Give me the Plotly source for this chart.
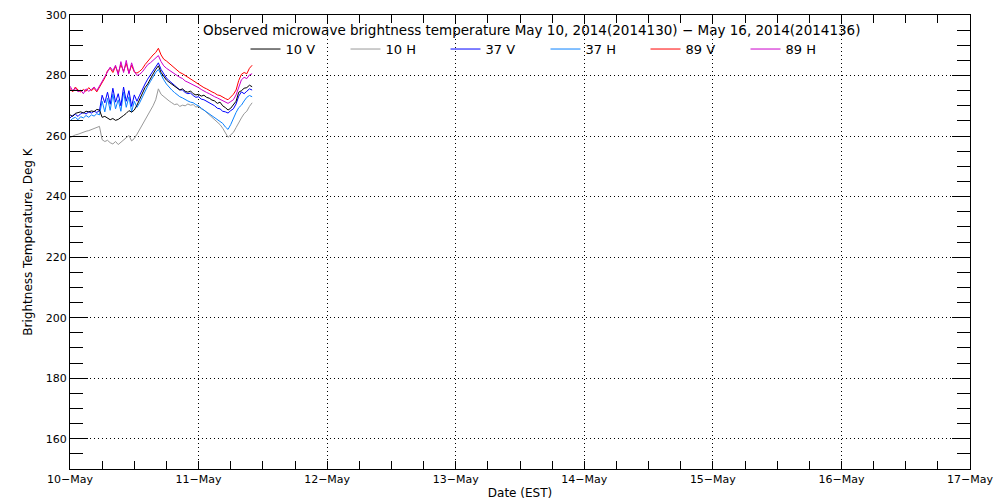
import pandas as pd
import plotly.graph_objects as go

# Half-hourly samples starting 2014-05-10 00:00 EST
start_time = "2014-05-10 00:00"
n_samples = 69
times = pd.date_range(start_time, periods=n_samples, freq="30min")

tb_10v = [267.0, 266.5, 267.5, 267.8, 268.0, 267.6, 268.2, 268.0, 268.3, 268.1, 268.8, 268.6,
          266.2, 266.5, 266.0, 265.4, 265.8, 265.2, 265.5, 266.3, 266.8, 267.5, 268.4, 267.9,
          268.6, 270.2, 272.0, 273.8, 276.0, 277.2, 279.0, 280.5, 282.0, 283.2, 281.0, 279.8,
          278.5, 277.8, 277.2, 276.4, 276.0, 275.2, 275.6, 274.8, 274.5, 274.9, 274.0, 273.6,
          273.8, 273.2, 273.5, 272.8, 272.5, 271.9, 271.6, 270.8, 271.2, 270.0, 269.4, 268.6,
          269.2, 270.5, 271.5, 274.5, 275.0, 275.8, 276.0, 276.8, 276.3]
tb_10h = [259.5, 260.0, 260.4, 260.6, 261.0, 261.2, 261.6, 261.8, 262.2, 262.4, 262.8, 263.2,
          258.8, 258.2, 258.6, 257.8, 257.4, 258.2, 257.2, 258.0, 258.6, 259.4, 260.2, 258.4,
          259.2, 260.6, 262.2, 263.8, 265.2, 266.6, 268.2, 270.0, 272.0, 275.6, 273.8, 273.0,
          272.4, 271.6, 271.0, 270.4, 270.6, 269.8, 270.2, 270.0, 270.6, 270.2, 270.4, 269.6,
          269.8, 269.0, 268.6, 267.8, 267.2, 266.4, 265.6, 264.6, 263.8, 262.6, 261.0, 259.6,
          260.4, 261.2, 262.8, 264.6, 266.0, 267.4, 268.2, 269.8, 271.0]
tb_37v = [266.0, 266.8, 267.2, 266.5, 267.4, 267.8, 267.3, 268.0, 267.6, 268.2, 267.8, 268.4,
          273.5, 271.0, 274.5, 270.5, 275.8, 271.2, 274.0, 270.0, 276.2, 271.5, 275.0, 269.8,
          273.6, 271.5, 273.5, 275.5, 277.2, 278.8, 280.2, 281.6, 283.0, 284.2, 282.0, 280.5,
          279.2, 278.3, 277.4, 276.8, 276.0, 275.3, 275.2, 274.4, 274.0, 274.2, 273.4, 272.8,
          273.0, 272.2, 272.0, 271.4, 271.0, 270.5, 270.0, 269.2, 269.0, 268.2, 268.0, 267.6,
          268.4, 269.0, 270.6, 273.2, 274.6, 274.0, 274.8, 275.6, 275.2]
tb_37h = [265.0, 265.8, 266.2, 265.4, 266.4, 266.0, 266.8, 266.2, 267.0, 266.6, 267.4, 267.0,
          271.5, 268.0, 272.5, 268.5, 273.8, 269.0, 272.0, 268.2, 274.5, 269.5, 273.0, 268.0,
          271.5, 269.5, 271.0, 273.0, 274.5, 276.5, 278.0, 279.6, 281.0, 282.0, 280.0, 278.6,
          277.2, 276.0, 275.2, 274.4, 273.6, 273.0, 272.6, 272.0, 271.6, 271.2, 271.0, 270.4,
          270.0, 269.2, 268.6, 268.0, 267.4, 266.6, 266.2, 265.4, 265.0, 264.2, 263.0, 262.2,
          263.8, 266.0, 267.8, 269.4, 270.2, 271.6, 272.8, 273.4, 273.0]
tb_89v = [275.8, 274.6, 276.2, 275.2, 274.6, 275.4, 274.8, 276.0, 275.0, 275.8, 274.6, 276.0,
          277.6, 279.2, 281.6, 282.4, 281.0, 283.0, 280.8, 283.6, 281.4, 284.0, 280.8, 283.4,
          281.2, 280.8, 281.4, 282.2, 283.6, 284.8, 285.6, 286.8, 287.6, 289.0, 286.8, 285.4,
          284.8, 284.0, 283.2, 282.6, 281.6, 281.0, 280.6, 280.0, 279.4, 278.8, 278.2, 277.8,
          277.2, 276.6, 276.0, 275.6, 275.0, 274.6, 274.2, 273.6, 273.4, 272.8, 272.4, 272.0,
          273.0, 273.8, 275.2, 278.4, 280.4, 281.0, 280.6, 282.4, 283.4]
tb_89h = [276.5, 275.0, 275.8, 274.6, 275.2, 274.0, 275.6, 274.8, 275.4, 276.2, 275.0, 276.4,
          277.8, 279.6, 281.2, 282.8, 281.6, 283.4, 280.2, 284.6, 281.0, 285.0, 280.6, 284.2,
          281.4, 280.0, 280.4, 281.2, 282.4, 283.6, 284.2, 285.0, 285.8, 286.6, 284.6, 283.2,
          282.4, 281.8, 281.0, 280.4, 279.8, 279.4, 279.0, 278.2, 277.8, 277.4, 277.0, 276.6,
          276.0, 275.4, 274.8, 274.4, 274.0, 273.4, 273.0, 272.6, 272.2, 271.6, 271.2, 270.8,
          271.4, 272.0, 273.6, 276.0, 278.6, 279.4, 279.0, 280.2, 280.6]

series_names = ["10 V", "10 H", "37 V", "37 H", "89 V", "89 H"]
series_colors = ["#000000", "#999999", "#0000ff", "#0a82ff", "#ff0000", "#cc00cc"]
series_values = [tb_10v, tb_10h, tb_37v, tb_37h, tb_89v, tb_89h]
draw_order = [1, 3, 2, 4, 5, 0]

x_range = ["2014-05-10", "2014-05-17"]
y_range = [150, 300]
title_text = "Observed microwave brightness temperature May 10, 2014(2014130) \u2212 May 16, 2014(2014136)"

FONT = "DejaVu Sans"
DOT = "1px,3px"

fig = go.Figure()
for idx in draw_order:
    fig.add_trace(go.Scatter(
        x=times, y=series_values[idx], mode="lines", name=series_names[idx],
        line=dict(color=series_colors[idx], width=1),
        legendrank=idx + 1,
    ))

fig.update_layout(
    width=1000, height=500,
    margin=dict(l=70, r=30, t=15, b=31),
    paper_bgcolor="white", plot_bgcolor="white",
    font=dict(family=FONT, size=11, color="black"),
    showlegend=True,
    legend=dict(orientation="h", x=0.195, y=0.958, xanchor="left", yanchor="top",
                bgcolor="rgba(0,0,0,0)", font=dict(family=FONT, size=13),
                entrywidth=55, traceorder="normal", itemwidth=30),
    annotations=[dict(text=title_text, xref="paper", yref="paper", x=0.513, y=0.945,
                      xanchor="center", yanchor="bottom", showarrow=False,
                      font=dict(family=FONT, size=13.5))],
)

fig.update_xaxes(
    range=x_range, type="date", automargin=False,
    showline=True, linecolor="black", linewidth=1, mirror="ticks",
    ticks="inside", ticklen=8, tickcolor="black",
    dtick=86400000, tick0="2014-05-10", tickformat="%d\u2212%b",
    showgrid=True, gridcolor="black", griddash=DOT, gridwidth=1,
    minor=dict(dtick=21600000, ticks="inside", ticklen=8, tickcolor="black", showgrid=False),
    title=dict(text="Date (EST)", font=dict(family=FONT, size=12), standoff=4),
    tickfont=dict(family=FONT, size=11),
    zeroline=False,
)
fig.update_yaxes(
    range=y_range, automargin=False,
    showline=True, linecolor="black", linewidth=1, mirror="ticks",
    ticks="inside", ticklen=18, tickcolor="black",
    dtick=20, tick0=0,
    showgrid=True, gridcolor="black", griddash=DOT, gridwidth=1,
    minor=dict(dtick=5, ticks="inside", ticklen=13, tickcolor="black", showgrid=False),
    title=dict(text="Brightness Temperature, Deg K", font=dict(family=FONT, size=12), standoff=10),
    tickfont=dict(family=FONT, size=11),
    zeroline=False,
)

fig.write_html("out.html", config={"displayModeBar": False},
               post_script="document.body.style.margin='0';")
